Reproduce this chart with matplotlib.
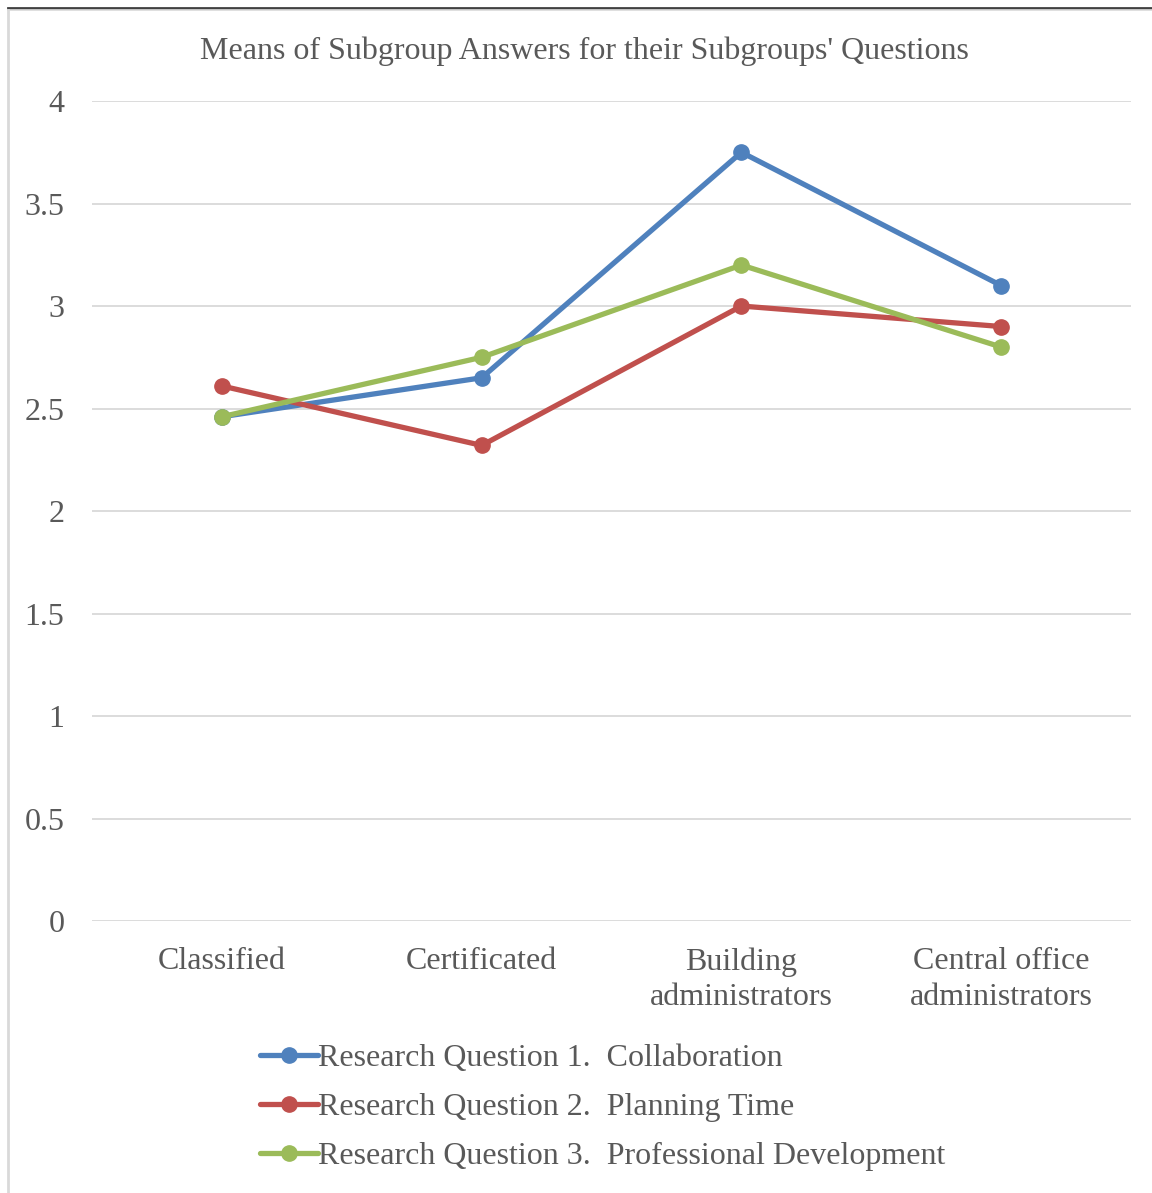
import matplotlib.pyplot as plt
from matplotlib.lines import Line2D

# Data
categories = ['Classified', 'Certificated', 'Building\nadministrators', 'Central office\nadministrators']
rq1_collab = [2.46, 2.65, 3.75, 3.10]
rq2_planning = [2.61, 2.32, 3.00, 2.90]
rq3_profdev = [2.46, 2.75, 3.20, 2.80]
series_labels = ['Research Question 1.  Collaboration',
                 'Research Question 2.  Planning Time',
                 'Research Question 3.  Professional Development']
y_ticks = [0, 0.5, 1, 1.5, 2, 2.5, 3, 3.5, 4]
y_tick_labels = ['0', '0.5', '1', '1.5', '2', '2.5', '3', '3.5', '4']

colors = ['#4F81BD', '#C0504D', '#9BBB59']
text_color = '#595959'

plt.rcParams['font.family'] = ['Liberation Serif', 'DejaVu Serif']

fig = plt.figure(figsize=(11.52, 11.93), dpi=100)
ax = fig.add_axes([0.0799, 0.228, 0.9019, 0.6873])

x = list(range(len(categories)))
for vals, lab, c in zip([rq1_collab, rq2_planning, rq3_profdev], series_labels, colors):
    ax.plot(x, vals, color=c, linewidth=3.8, marker='o', markersize=11,
            label=lab, solid_capstyle='round')

ax.set_xlim(-0.5, 3.5)
ax.set_ylim(0, 4)
ax.set_yticks(y_ticks)
ax.set_yticklabels(y_tick_labels)
ax.set_xticks(x)
ax.set_xticklabels(categories, linespacing=1.28)
ax.tick_params(axis='both', length=0, labelsize=23, colors=text_color)
ax.tick_params(axis='x', pad=19)
ax.tick_params(axis='y', pad=20)
ax.grid(True, axis='y', color='#D9D9D9', linewidth=1.3)
ax.set_axisbelow(True)
for s in ax.spines.values():
    s.set_visible(False)

fig.text(0.507, 0.957, "Means of Subgroup Answers for their Subgroups' Questions",
         ha='center', va='center', fontsize=23, color=text_color)

leg = fig.legend(loc='upper left', bbox_to_anchor=(0.215, 0.136), frameon=False,
                 fontsize=23, labelcolor=text_color, handlelength=1.8,
                 handletextpad=0.0, labelspacing=0.62, borderaxespad=0)

# outer frame pieces
fig.add_artist(Line2D([0.0069, 1.0], [0.9933, 0.9933], color='#404040', linewidth=2.0))
fig.add_artist(Line2D([0.0069, 1.0], [0.9916, 0.9916], color='#D9D9D9', linewidth=1.2))
fig.add_artist(Line2D([0.0069, 0.0069], [0.0, 0.992], color='#D9D9D9', linewidth=2.0))

fig.savefig('out.png', dpi=100)
